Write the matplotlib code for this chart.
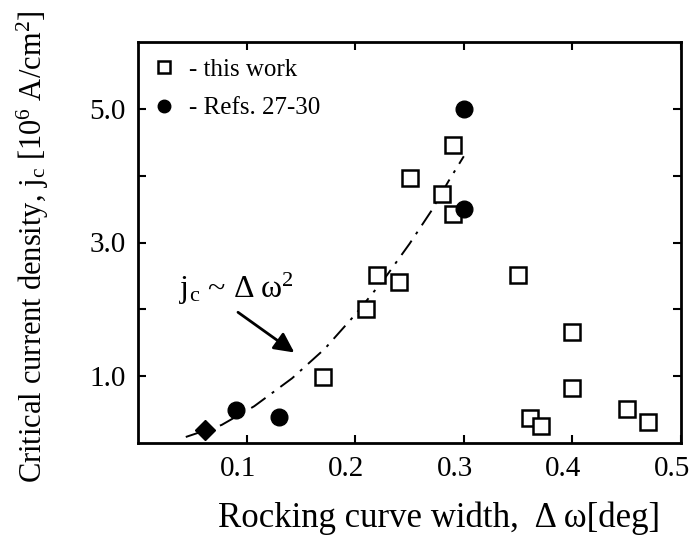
import matplotlib
matplotlib.use("Agg")
import matplotlib.pyplot as plt
from matplotlib.ticker import FixedLocator, FixedFormatter
from matplotlib.transforms import ScaledTranslation

# ---- data ----
work_x = [0.290, 0.250, 0.280, 0.290, 0.220, 0.240, 0.210, 0.170, 0.350, 0.400, 0.400, 0.361, 0.371, 0.450, 0.470]
work_y = [4.46, 3.96, 3.72, 3.42, 2.51, 2.41, 2.01, 0.99, 2.51, 1.66, 0.83, 0.37, 0.25, 0.51, 0.32]

refs_x = [0.300, 0.300, 0.090, 0.130]
refs_y = [5.00, 3.50, 0.50, 0.39]

diamond_x = [0.062]
diamond_y = [0.20]

fit_x = [0.044, 0.077, 0.107, 0.142, 0.172, 0.201, 0.227, 0.250, 0.270, 0.286, 0.300]
fit_y = [0.09, 0.27, 0.55, 0.97, 1.41, 1.94, 2.46, 2.98, 3.47, 3.92, 4.29]

x_ticks = [0.1, 0.2, 0.3, 0.4, 0.5]
x_ticklabels = ["0.1", "0.2", "0.3", "0.4", "0.5"]
y_ticks = [1, 2, 3, 4, 5]
y_ticklabels = ["1.0", "", "3.0", "", "5.0"]

legend_labels = ["- this work", "- Refs. 27-30"]
xlabel = "Rocking curve width,  \u0394 \u03c9[deg]"
ylabel = r"Critical current density, j$_\mathrm{c}$ [10$^\mathrm{6}$ A/cm$^\mathrm{2}$]"
fit_label = "j$_\\mathrm{c}$ ~ \u0394\u2009\u03c9$^\\mathrm{2}$"

# ---- style ----
plt.rcParams["font.family"] = ["Liberation Serif", "DejaVu Serif"]
plt.rcParams["mathtext.fontset"] = "custom"
plt.rcParams["mathtext.rm"] = "Liberation Serif"
plt.rcParams["mathtext.it"] = "Liberation Serif:italic"
plt.rcParams["mathtext.bf"] = "Liberation Serif:bold"

fig = plt.figure(figsize=(6.93, 5.39), dpi=100)
ax = fig.add_axes([138 / 693, 1 - 443 / 539, (681 - 138) / 693, (443 - 42) / 539])

ax.plot(fit_x, fit_y, color="black", lw=1.4, linestyle=(0, (9, 4, 1.5, 4)), zorder=1)

ax.plot(work_x, work_y, linestyle="none", marker="s", ms=12, mfc="white",
        mec="black", mew=1.8, label=legend_labels[0], zorder=3)
ax.plot(refs_x, refs_y, linestyle="none", marker="o", ms=12, mfc="black",
        mec="black", label=legend_labels[1], zorder=3)
ax.plot(diamond_x, diamond_y, linestyle="none", marker="D", ms=10, mfc="black",
        mec="black", zorder=3)

ax.set_xlim(0.0, 0.5)
ax.set_ylim(0.0, 6.0)

ax.xaxis.set_major_locator(FixedLocator(x_ticks))
ax.xaxis.set_major_formatter(FixedFormatter(x_ticklabels))
ax.yaxis.set_major_locator(FixedLocator(y_ticks))
ax.yaxis.set_major_formatter(FixedFormatter(y_ticklabels))

ax.tick_params(direction="in", length=6, width=1.5, top=True, right=True,
               labelsize=21, pad=9)
for s in ax.spines.values():
    s.set_linewidth(2.0)

# shift x tick labels slightly left, as in the reference
shift = ScaledTranslation(-9 / 100, 0, fig.dpi_scale_trans)
for lab in ax.get_xticklabels():
    lab.set_transform(lab.get_transform() + shift)

ax.set_xlabel(xlabel, fontsize=25)
ax.xaxis.set_label_coords(0.554, -0.145)
ax.set_ylabel(ylabel, fontsize=22)
ax.yaxis.set_label_coords(-0.16, 0.49)

ax.text(0.038, 2.31, fit_label, fontsize=23, ha="left", va="center")
ax.annotate("", xy=(0.146, 1.33), xytext=(0.090, 1.98),
            arrowprops=dict(arrowstyle="-|>", lw=2.0, color="black", mutation_scale=30))

leg = ax.legend(loc="upper left", frameon=False, fontsize=18, markerscale=0.75,
                handlelength=0.8, handletextpad=0.6, borderaxespad=0.25,
                labelspacing=0.65, numpoints=1)

fig.savefig("out.png", dpi=100)
